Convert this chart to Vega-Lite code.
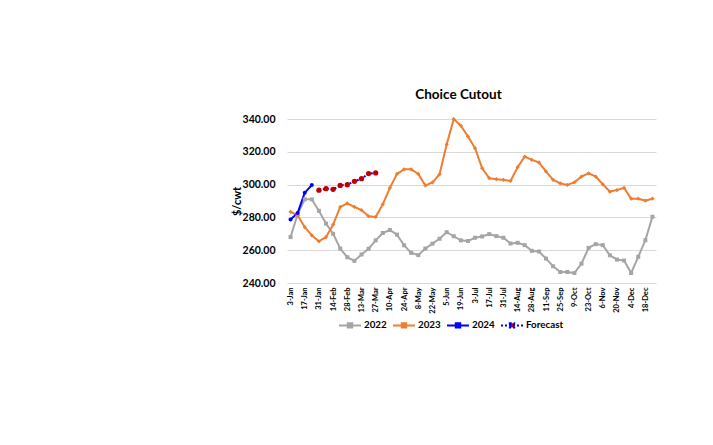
{
  "$schema": "https://vega.github.io/schema/vega-lite/v6.json",
  "autosize": {"type": "none"},
  "padding": {"left": 287, "top": 119, "right": 57, "bottom": 162},
  "width": 369,
  "height": 164,
  "background": "white",
  "config": {"view": {"stroke": null}, "font": "Lato"},
  "title": {"text": "Choice Cutout", "font": "Lato", "fontSize": 13.5, "fontWeight": "bold", "color": "#000000", "anchor": "middle", "dx": -13, "offset": 13},
  "data": {"values": [
    {"w":"3-Jan","s":"2022","v":268.0},{"w":"10-Jan","s":"2022","v":282.0},{"w":"17-Jan","s":"2022","v":291.0},{"w":"24-Jan","s":"2022","v":291.0},{"w":"31-Jan","s":"2022","v":284.0},{"w":"7-Feb","s":"2022","v":276.2},{"w":"14-Feb","s":"2022","v":270.0},{"w":"21-Feb","s":"2022","v":261.0},{"w":"28-Feb","s":"2022","v":255.7},{"w":"6-Mar","s":"2022","v":253.5},{"w":"13-Mar","s":"2022","v":257.4},{"w":"20-Mar","s":"2022","v":260.9},{"w":"27-Mar","s":"2022","v":266.0},{"w":"3-Apr","s":"2022","v":270.5},{"w":"10-Apr","s":"2022","v":272.3},{"w":"17-Apr","s":"2022","v":269.5},{"w":"24-Apr","s":"2022","v":263.0},{"w":"1-May","s":"2022","v":258.4},{"w":"8-May","s":"2022","v":257.0},{"w":"15-May","s":"2022","v":261.0},{"w":"22-May","s":"2022","v":264.0},{"w":"29-May","s":"2022","v":267.0},{"w":"5-Jun","s":"2022","v":271.0},{"w":"12-Jun","s":"2022","v":268.5},{"w":"19-Jun","s":"2022","v":266.0},{"w":"26-Jun","s":"2022","v":265.6},{"w":"3-Jul","s":"2022","v":267.6},{"w":"10-Jul","s":"2022","v":268.4},{"w":"17-Jul","s":"2022","v":269.8},{"w":"24-Jul","s":"2022","v":268.6},{"w":"31-Jul","s":"2022","v":267.6},{"w":"7-Aug","s":"2022","v":264.1},{"w":"14-Aug","s":"2022","v":264.5},{"w":"21-Aug","s":"2022","v":263.1},{"w":"28-Aug","s":"2022","v":259.6},{"w":"4-Sep","s":"2022","v":259.2},{"w":"11-Sep","s":"2022","v":254.9},{"w":"18-Sep","s":"2022","v":250.2},{"w":"25-Sep","s":"2022","v":246.7},{"w":"2-Oct","s":"2022","v":246.7},{"w":"9-Oct","s":"2022","v":246.1},{"w":"16-Oct","s":"2022","v":251.8},{"w":"23-Oct","s":"2022","v":261.4},{"w":"30-Oct","s":"2022","v":263.7},{"w":"6-Nov","s":"2022","v":263.1},{"w":"13-Nov","s":"2022","v":256.9},{"w":"20-Nov","s":"2022","v":254.3},{"w":"27-Nov","s":"2022","v":253.7},{"w":"4-Dec","s":"2022","v":246.1},{"w":"11-Dec","s":"2022","v":256.0},{"w":"18-Dec","s":"2022","v":266.1},{"w":"25-Dec","s":"2022","v":280.4},
    {"w":"3-Jan","s":"2023","v":283.4},{"w":"10-Jan","s":"2023","v":281.3},{"w":"17-Jan","s":"2023","v":274.1},{"w":"24-Jan","s":"2023","v":269.0},{"w":"31-Jan","s":"2023","v":265.4},{"w":"7-Feb","s":"2023","v":268.0},{"w":"14-Feb","s":"2023","v":275.6},{"w":"21-Feb","s":"2023","v":286.4},{"w":"28-Feb","s":"2023","v":288.5},{"w":"6-Mar","s":"2023","v":286.4},{"w":"13-Mar","s":"2023","v":284.4},{"w":"20-Mar","s":"2023","v":280.7},{"w":"27-Mar","s":"2023","v":280.3},{"w":"3-Apr","s":"2023","v":288.0},{"w":"10-Apr","s":"2023","v":298.0},{"w":"17-Apr","s":"2023","v":306.5},{"w":"24-Apr","s":"2023","v":309.3},{"w":"1-May","s":"2023","v":309.3},{"w":"8-May","s":"2023","v":306.5},{"w":"15-May","s":"2023","v":299.5},{"w":"22-May","s":"2023","v":301.3},{"w":"29-May","s":"2023","v":306.3},{"w":"5-Jun","s":"2023","v":324.5},{"w":"12-Jun","s":"2023","v":340.0},{"w":"19-Jun","s":"2023","v":335.9},{"w":"26-Jun","s":"2023","v":329.4},{"w":"3-Jul","s":"2023","v":322.2},{"w":"10-Jul","s":"2023","v":310.0},{"w":"17-Jul","s":"2023","v":303.9},{"w":"24-Jul","s":"2023","v":303.3},{"w":"31-Jul","s":"2023","v":302.9},{"w":"7-Aug","s":"2023","v":302.2},{"w":"14-Aug","s":"2023","v":310.6},{"w":"21-Aug","s":"2023","v":317.1},{"w":"28-Aug","s":"2023","v":315.1},{"w":"4-Sep","s":"2023","v":313.5},{"w":"11-Sep","s":"2023","v":308.0},{"w":"18-Sep","s":"2023","v":302.9},{"w":"25-Sep","s":"2023","v":300.8},{"w":"2-Oct","s":"2023","v":299.8},{"w":"9-Oct","s":"2023","v":301.4},{"w":"16-Oct","s":"2023","v":304.9},{"w":"23-Oct","s":"2023","v":306.9},{"w":"30-Oct","s":"2023","v":304.9},{"w":"6-Nov","s":"2023","v":300.2},{"w":"13-Nov","s":"2023","v":295.7},{"w":"20-Nov","s":"2023","v":296.7},{"w":"27-Nov","s":"2023","v":298.0},{"w":"4-Dec","s":"2023","v":291.4},{"w":"11-Dec","s":"2023","v":291.4},{"w":"18-Dec","s":"2023","v":290.2},{"w":"25-Dec","s":"2023","v":291.4},
    {"w":"3-Jan","s":"2024","v":278.7},{"w":"10-Jan","s":"2024","v":282.7},{"w":"17-Jan","s":"2024","v":295.0},{"w":"24-Jan","s":"2024","v":299.7},
    {"w":"31-Jan","s":"Forecast","v":296.6},{"w":"7-Feb","s":"Forecast","v":297.5},{"w":"14-Feb","s":"Forecast","v":297.1},{"w":"21-Feb","s":"Forecast","v":299.5},{"w":"28-Feb","s":"Forecast","v":299.9},{"w":"6-Mar","s":"Forecast","v":302.0},{"w":"13-Mar","s":"Forecast","v":303.6},{"w":"20-Mar","s":"Forecast","v":306.7},{"w":"27-Mar","s":"Forecast","v":307.1}
  ]},
  "encoding": {
    "x": {
      "field": "w", "type": "nominal",
      "sort": ["3-Jan","10-Jan","17-Jan","24-Jan","31-Jan","7-Feb","14-Feb","21-Feb","28-Feb","6-Mar","13-Mar","20-Mar","27-Mar","3-Apr","10-Apr","17-Apr","24-Apr","1-May","8-May","15-May","22-May","29-May","5-Jun","12-Jun","19-Jun","26-Jun","3-Jul","10-Jul","17-Jul","24-Jul","31-Jul","7-Aug","14-Aug","21-Aug","28-Aug","4-Sep","11-Sep","18-Sep","25-Sep","2-Oct","9-Oct","16-Oct","23-Oct","30-Oct","6-Nov","13-Nov","20-Nov","27-Nov","4-Dec","11-Dec","18-Dec","25-Dec"],
      "scale": {"type": "point", "padding": 0.5},
      "axis": {
        "title": null,
        "values": ["3-Jan","17-Jan","31-Jan","14-Feb","28-Feb","13-Mar","27-Mar","10-Apr","24-Apr","8-May","22-May","5-Jun","19-Jun","3-Jul","17-Jul","31-Jul","14-Aug","28-Aug","11-Sep","25-Sep","9-Oct","23-Oct","6-Nov","20-Nov","4-Dec","18-Dec"],
        "labelAngle": -90, "labelFont": "Lato", "labelFontSize": 7.5, "labelFontWeight": "bold", "labelColor": "#000000",
        "labelPadding": 4, "ticks": false, "domain": false, "grid": false, "labelOverlap": false
      }
    },
    "y": {
      "field": "v", "type": "quantitative",
      "scale": {"domain": [240, 340], "nice": false, "zero": false},
      "axis": {
        "title": "$/cwt", "titleFont": "Lato", "titleFontSize": 11, "titleFontWeight": "bold", "titleColor": "#000000", "titlePadding": 0,
        "values": [240, 260, 280, 300, 320, 340], "format": ".2f",
        "labelFont": "Lato", "labelFontSize": 10.5, "labelFontWeight": "bold", "labelColor": "#000000", "labelPadding": 12,
        "ticks": false, "domain": false, "grid": true, "gridColor": "#D9D9D9", "gridWidth": 1
      }
    }
  },
  "layer": [
    {
      "mark": {"type": "line", "strokeWidth": 2},
      "encoding": {
        "color": {
          "field": "s", "type": "nominal",
          "scale": {"domain": ["2022","2023","2024","Forecast"], "range": ["#A5A5A5","#ED7D31","#0000FF","#0000FF"]},
          "legend": {
            "orient": "none", "legendX": 51, "legendY": 194, "direction": "horizontal", "title": null,
            "symbolType": "M-1,0H1M-0.2,-0.2H0.2V0.2H-0.2Z", "symbolSize": 484, "symbolStrokeWidth": 2,
            "labelFont": "Lato", "labelFontSize": 9.8, "labelFontWeight": "bold", "labelColor": "#000000",
            "labelOffset": 2, "columnPadding": 2,
            "encode": {"symbols": {"update": {
              "fill": {"signal": "datum.value === 'Forecast' ? '#C00000' : scale('color', datum.value)"}
            }}}
          }
        },
        "strokeDash": {
          "field": "s", "type": "nominal",
          "scale": {"domain": ["2022","2023","2024","Forecast"], "range": [[1,0],[1,0],[1,0],[2,2]]},
          "legend": {
            "orient": "none", "legendX": 51, "legendY": 194, "direction": "horizontal", "title": null,
            "symbolType": "M-1,0H1M-0.2,-0.2H0.2V0.2H-0.2Z", "symbolSize": 484, "symbolStrokeWidth": 2,
            "labelFont": "Lato", "labelFontSize": 9.8, "labelFontWeight": "bold", "labelColor": "#000000",
            "labelOffset": 2, "columnPadding": 2,
            "encode": {"symbols": {"update": {
              "fill": {"signal": "datum.value === 'Forecast' ? '#C00000' : scale('color', datum.value)"}
            }}}
          }
        }
      }
    },
    {
      "transform": [{"filter": {"field": "s", "equal": "2022"}}],
      "mark": {"type": "point", "filled": true, "opacity": 1, "shape": "square", "size": 16, "color": "#A5A5A5"}
    },
    {
      "transform": [{"filter": {"field": "s", "equal": "2023"}}],
      "mark": {"type": "point", "filled": true, "opacity": 1, "shape": "diamond", "size": 18, "color": "#ED7D31"}
    },
    {
      "transform": [{"filter": {"field": "s", "equal": "2024"}}],
      "mark": {"type": "point", "filled": true, "opacity": 1, "shape": "circle", "size": 16, "color": "#0000FF"}
    },
    {
      "transform": [{"filter": {"field": "s", "equal": "Forecast"}}],
      "mark": {"type": "point", "filled": true, "opacity": 1, "shape": "circle", "size": 28, "color": "#C00000"}
    }
  ]
}
